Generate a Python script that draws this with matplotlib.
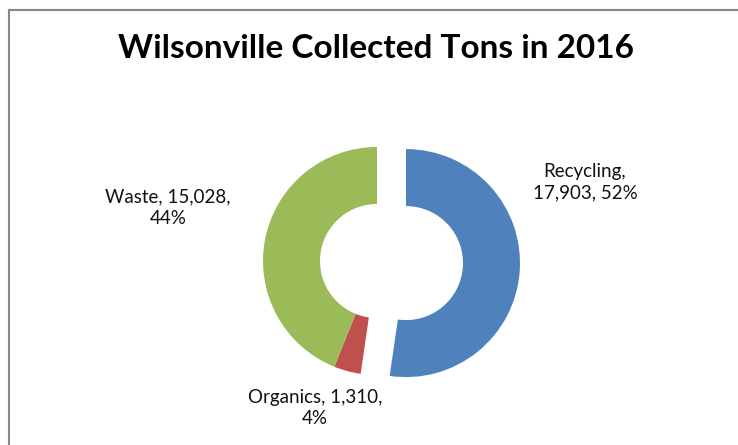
import matplotlib.pyplot as plt
from matplotlib.lines import Line2D

# Tonnages collectés en 2016
categories = ['Recycling', 'Organics', 'Waste']
tons = [17903, 1310, 15028]
couleurs = ['#4F81BD', '#C0504D', '#9BBB59']

W, H = 738, 445
fig = plt.figure(figsize=(W / 100, H / 100), dpi=100)
ax = fig.add_axes([0, 0, 1, 1])

ax.pie(tons, colors=couleurs, startangle=90, counterclock=False,
       explode=[0.255, 0, 0], radius=1.0,
       wedgeprops=dict(width=0.5, linewidth=0))

# Anneau : rayon 114 px, centre à (377, 261) px depuis le coin haut-gauche
R = 114.0
cx, cy = 377.0, 261.0
ax.set_aspect('auto')
ax.set_xlim(-cx / R, (W - cx) / R)
ax.set_ylim(-(H - cy) / R, cy / R)
ax.axis('off')

# Étiquettes : nom, valeur, pourcentage
total = sum(tons)
pcts = [round(100 * t / total) for t in tons]
pos_labels = {'Recycling': (585, 182), 'Organics': (315, 408), 'Waste': (168, 208)}
for nom, t, p in zip(categories, tons, pcts):
    if nom == 'Recycling':
        txt = f"{nom},\n{t:,}, {p}%"
    else:
        txt = f"{nom}, {t:,},\n{p}%"
    px, py = pos_labels[nom]
    fig.text(px / W, 1 - py / H, txt, ha='center', va='center',
             fontsize=13.5, family='Lato', color='#111111', linespacing=1.32)

# Titre
fig.text(376 / W, 1 - 48 / H, 'Wilsonville Collected Tons in 2016',
         ha='center', va='center', fontsize=24, fontweight='bold',
         family='Lato', color='black')

# Cadre gris
bord = '#868686'
x0, y0 = 8.5 / W, 1 - 9.5 / H
fig.add_artist(Line2D([x0, 1.01], [y0, y0], color=bord, lw=1.5))
fig.add_artist(Line2D([x0, x0], [y0, -0.01], color=bord, lw=1.5))

fig.savefig('out.png', dpi=100)
